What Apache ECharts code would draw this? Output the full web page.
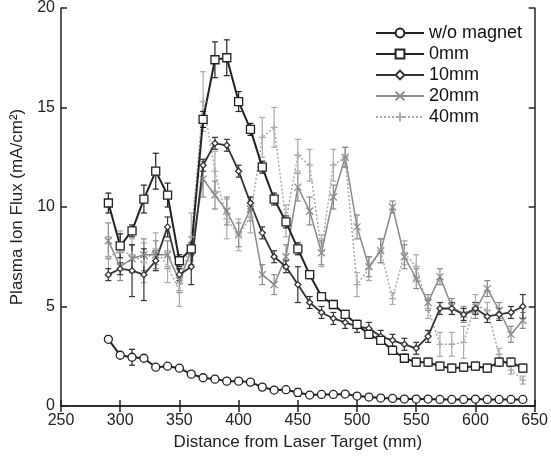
<!DOCTYPE html>
<html>
<head>
<meta charset="utf-8">
<script src="https://cdn.jsdelivr.net/npm/echarts@6/dist/echarts.min.js"></script>
<style>
  html, body { margin: 0; padding: 0; background: #fff; }
  #chart { width: 551px; height: 461px; }
</style>
</head>
<body>
<div id="chart"></div>
<script>
// distance from laser target (mm)
var xs = [290,300,310,320,330,340,350,360,370,380,390,400,410,420,430,440,450,460,470,480,490,500,510,520,530,540,550,560,570,580,590,600,610,620,630,640];

// plasma ion flux (mA/cm2) and half error bars
var noMagnet = [3.35,2.55,2.45,2.4,1.95,2.0,1.9,1.6,1.42,1.35,1.25,1.25,1.2,0.95,0.8,0.82,0.68,0.55,0.58,0.58,0.6,0.5,0.45,0.4,0.38,0.35,0.35,0.35,0.33,0.33,0.33,0.35,0.33,0.33,0.33,0.33];
var noMagnetErr = [0.15,0.15,0.4,0.1,0.1,0.1,0.1,0.1,0.1,0.1,0.1,0.1,0.1,0.1,0.1,0.1,0.2,0.1,0.1,0.1,0.1,0.1,0.1,0.1,0.1,0.1,0.1,0.1,0.1,0.1,0.1,0.1,0.1,0.1,0.1,0.1];

var zeroMm = [10.2,8.05,8.8,10.4,11.8,10.6,7.3,7.9,14.4,17.4,17.5,15.3,13.9,12.0,10.4,9.25,7.9,6.6,5.5,5.1,4.6,4.1,3.6,3.3,2.8,2.4,2.2,2.2,2.0,1.9,1.95,2.0,1.9,2.2,2.2,1.9];
var zeroErr = [0.5,0.6,0.3,0.7,0.9,0.6,0.3,0.3,0.4,0.9,0.9,0.5,0.3,0.3,0.3,0.3,0.3,0.2,0.2,0.2,0.2,0.2,0.2,0.2,0.2,0.2,0.2,0.2,0.2,0.2,0.2,0.2,0.2,0.2,0.2,0.2];

var tenMm = [6.6,6.9,6.8,6.6,7.3,9.0,6.6,7.0,12.1,13.2,13.1,11.8,10.2,8.7,7.5,7.0,6.1,5.2,4.7,4.4,4.2,4.0,3.9,3.5,3.3,3.1,2.9,3.5,4.9,4.9,4.6,4.9,4.5,4.6,4.7,5.0];
var tenErr = [0.3,0.3,1.3,1.3,0.5,0.5,0.3,0.9,0.3,0.3,0.3,0.3,0.3,0.3,0.3,0.3,0.9,0.3,0.3,0.3,0.3,0.3,0.3,0.3,0.3,0.3,0.3,0.3,0.3,0.3,0.3,0.3,0.3,0.3,0.3,0.6];

var twentyMm = [8.3,7.0,7.4,7.6,7.6,7.6,6.3,7.8,11.4,10.6,9.8,8.6,9.9,6.6,6.1,7.5,11.0,9.8,7.7,10.5,12.5,9.0,7.0,7.8,10.0,7.5,6.4,5.2,6.5,5.0,4.6,4.8,5.9,4.8,3.6,4.3];
var twentyErr = [0.9,0.7,0.7,0.8,0.7,0.7,0.6,0.7,0.9,0.7,0.7,0.6,0.6,0.5,0.5,0.6,0.7,0.7,0.6,0.6,0.5,0.6,0.5,0.6,0.3,0.6,0.5,0.4,0.4,0.4,0.4,0.4,0.4,0.4,0.4,0.4];

var fortyMm = [7.5,7.8,7.6,7.2,7.9,7.0,5.8,8.5,15.3,11.8,9.4,8.6,9.5,13.5,14.0,9.3,12.6,12.1,7.8,12.1,12.5,6.1,6.9,7.8,5.4,7.7,7.0,4.9,3.1,3.1,3.2,5.1,4.8,2.6,1.8,1.3];
var fortyErr = [1.0,1.0,0.8,1.0,0.8,0.8,0.8,1.2,1.5,1.0,1.0,0.8,0.8,1.0,1.0,0.8,0.8,0.8,0.8,0.8,0.5,0.6,0.6,0.6,0.3,0.6,0.6,0.5,0.6,0.6,0.8,0.5,0.4,0.3,0.2,0.2];

var names = ['w/o magnet', '0mm', '10mm', '20mm', '40mm'];

var FONT = 'Liberation Sans';
var crossSym = 'path://M0,0L10,10M10,0L0,10';
var plusSym = 'path://M5,0L5,10M0,5L10,5';

function pairs(vals) {
    return xs.map(function (x, i) { return [x, vals[i]]; });
}

function errData(vals, errs) {
    return xs.map(function (x, i) { return [x, vals[i] - errs[i], vals[i] + errs[i]]; });
}

function errSeries(vals, errs, color) {
    return {
        type: 'custom',
        z: 1,
        silent: true,
        data: errData(vals, errs),
        encode: { x: 0, y: [1, 2] },
        renderItem: function (params, api) {
            var x = api.value(0);
            var top = api.coord([x, api.value(2)]);
            var bot = api.coord([x, api.value(1)]);
            var w = 3;
            var st = { stroke: color, lineWidth: 1.2 };
            return {
                type: 'group',
                children: [
                    { type: 'line', shape: { x1: top[0], y1: top[1], x2: bot[0], y2: bot[1] }, style: st },
                    { type: 'line', shape: { x1: top[0] - w, y1: top[1], x2: top[0] + w, y2: top[1] }, style: st },
                    { type: 'line', shape: { x1: bot[0] - w, y1: bot[1], x2: bot[0] + w, y2: bot[1] }, style: st }
                ]
            };
        }
    };
}

function lineSeries(name, vals, color, symbol, size, lineType, width) {
    return {
        name: name,
        type: 'line',
        z: 3,
        data: pairs(vals),
        symbol: symbol,
        symbolSize: size,
        showAllSymbol: true,
        color: color,
        lineStyle: { color: color, width: width, type: lineType },
        itemStyle: { color: '#fff', borderColor: color, borderWidth: 1.3 }
    };
}

var chart = echarts.init(document.getElementById('chart'));

chart.setOption({
    backgroundColor: '#fff',
    animation: false,
    grid: { left: 61, right: 15, top: 7, bottom: 55 },
    legend: {
        data: names,
        orient: 'vertical',
        left: 370,
        top: 19,
        itemWidth: 48,
        itemHeight: 11,
        itemGap: 3,
        textStyle: { fontFamily: FONT, fontSize: 18, color: '#111' }
    },
    xAxis: [{
        type: 'value',
        min: 250, max: 650, interval: 50,
        name: 'Distance from Laser Target (mm)',
        nameLocation: 'middle',
        nameGap: 25,
        nameTextStyle: { fontFamily: FONT, fontSize: 17, color: '#222' },
        axisLine: { lineStyle: { color: '#222', width: 1.5 } },
        axisTick: { inside: true, length: 6, lineStyle: { color: '#222', width: 1.5 } },
        axisLabel: { fontFamily: FONT, fontSize: 16, color: '#222', margin: 7 },
        splitLine: { show: false }
    }, {
        type: 'value',
        position: 'top',
        min: 250, max: 650, interval: 50,
        axisLine: { lineStyle: { color: '#222', width: 1.5 } },
        axisTick: { inside: true, length: 6, lineStyle: { color: '#222', width: 1.5 } },
        axisLabel: { show: false },
        splitLine: { show: false }
    }],
    yAxis: [{
        type: 'value',
        min: 0, max: 20, interval: 5,
        name: 'Plasma Ion Flux (mA/cm\u00b2)',
        nameLocation: 'middle',
        nameGap: 34,
        nameTextStyle: { fontFamily: FONT, fontSize: 17, color: '#222' },
        axisLine: { show: true, lineStyle: { color: '#222', width: 1.5 } },
        axisTick: { show: true, inside: true, length: 6, lineStyle: { color: '#222', width: 1.5 } },
        axisLabel: { fontFamily: FONT, fontSize: 16, color: '#222', margin: 6 },
        splitLine: { show: false }
    }, {
        type: 'value',
        position: 'right',
        min: 0, max: 20, interval: 5,
        axisLine: { show: true, lineStyle: { color: '#222', width: 1.5 } },
        axisTick: { show: true, inside: true, length: 6, lineStyle: { color: '#222', width: 1.5 } },
        axisLabel: { show: false },
        splitLine: { show: false }
    }],
    series: [
        errSeries(fortyMm, fortyErr, '#aaaaaa'),
        errSeries(twentyMm, twentyErr, '#8a8a8a'),
        errSeries(tenMm, tenErr, '#333333'),
        errSeries(zeroMm, zeroErr, '#222222'),
        errSeries(noMagnet, noMagnetErr, '#222222'),
        lineSeries('40mm', fortyMm, '#aaaaaa', plusSym, 7, [2, 2], 1.5),
        lineSeries('20mm', twentyMm, '#8a8a8a', crossSym, 7, 'solid', 1.5),
        lineSeries('10mm', tenMm, '#333333', 'diamond', 6, 'solid', 1.8),
        lineSeries('0mm', zeroMm, '#222222', 'rect', 8, 'solid', 2),
        lineSeries('w/o magnet', noMagnet, '#222222', 'circle', 8, 'solid', 2)
    ]
});
</script>
</body>
</html>
